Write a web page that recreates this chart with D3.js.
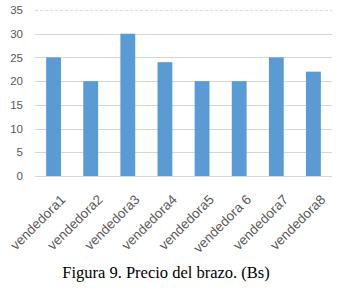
<!DOCTYPE html>
<html>
<head>
<meta charset="utf-8">
<script src="https://cdn.jsdelivr.net/npm/d3@7"></script>
<style>
  body { margin: 0; background: #fff; }
</style>
</head>
<body>
<div id="chart"></div>
<script>
var vendedoras = ["vendedora1", "vendedora2", "vendedora3", "vendedora4",
    "vendedora5", "vendedora 6", "vendedora7", "vendedora8"];
var precios = [25, 20, 30, 24, 20, 20, 25, 22];
var yTicks = [0, 5, 10, 15, 20, 25, 30, 35];
var caption = "Figura 9. Precio del brazo. (Bs)";

var margin = { top: 10, right: 6, bottom: 115, left: 35 },
    width = 338 - margin.left - margin.right,
    height = 291 - margin.top - margin.bottom;

var svg = d3.select("#chart")
    .append("svg")
    .attr("width", 338)
    .attr("height", 291)
    .append("g")
    .attr("transform", "translate(" + margin.left + "," + margin.top + ")");

var x = d3.scaleBand()
    .domain(vendedoras)
    .range([0, width])
    .paddingInner(0.6)
    .paddingOuter(0.3);

var y = d3.scaleLinear()
    .domain([0, 35])
    .range([height, 0]);

// gridlines
svg.selectAll(".grid")
    .data(yTicks)
    .enter()
    .append("line")
    .attr("x1", 0)
    .attr("x2", width)
    .attr("y1", function(d) { return Math.round(y(d)) + 0.5; })
    .attr("y2", function(d) { return Math.round(y(d)) + 0.5; })
    .attr("stroke", function(d) { return d === 35 ? "#e4d9e0" : "#d3d8d3"; })
    .attr("stroke-dasharray", function(d) { return d === 35 ? "3,2" : null; })
    .attr("stroke-width", 1);

// y tick labels
var yAxis = svg.append("g")
    .call(d3.axisLeft(y).tickValues(yTicks).tickSize(0).tickPadding(12));
yAxis.select(".domain").remove();
yAxis.selectAll("text")
    .style("fill", "#595959")
    .style("font-family", "Liberation Sans, Arial, sans-serif")
    .style("font-size", "11.5px");

// bars
svg.selectAll(".bar")
    .data(precios)
    .enter()
    .append("rect")
    .attr("x", function(d, i) { return x(vendedoras[i]); })
    .attr("y", function(d) { return y(d); })
    .attr("width", x.bandwidth())
    .attr("height", function(d) { return height - y(d); })
    .attr("fill", "#5b9bd5");

// x labels, rotated
var xAxis = svg.append("g")
    .attr("transform", "translate(0," + height + ")")
    .call(d3.axisBottom(x).tickSize(0).tickPadding(0));
xAxis.select(".domain").remove();
xAxis.selectAll("text")
    .attr("transform", "translate(" + (x.bandwidth() / 2 + 2) + ",21)rotate(-45)")
    .attr("dy", "0.35em")
    .style("text-anchor", "end")
    .style("fill", "#595959")
    .style("font-family", "Liberation Sans, Arial, sans-serif")
    .style("font-size", "13.5px");

// caption
d3.select("svg").append("text")
    .attr("x", 166)
    .attr("y", 278)
    .attr("text-anchor", "middle")
    .style("font-family", "Liberation Serif, Times New Roman, serif")
    .style("font-size", "16.5px")
    .style("fill", "#000")
    .text(caption);
</script>
</body>
</html>
